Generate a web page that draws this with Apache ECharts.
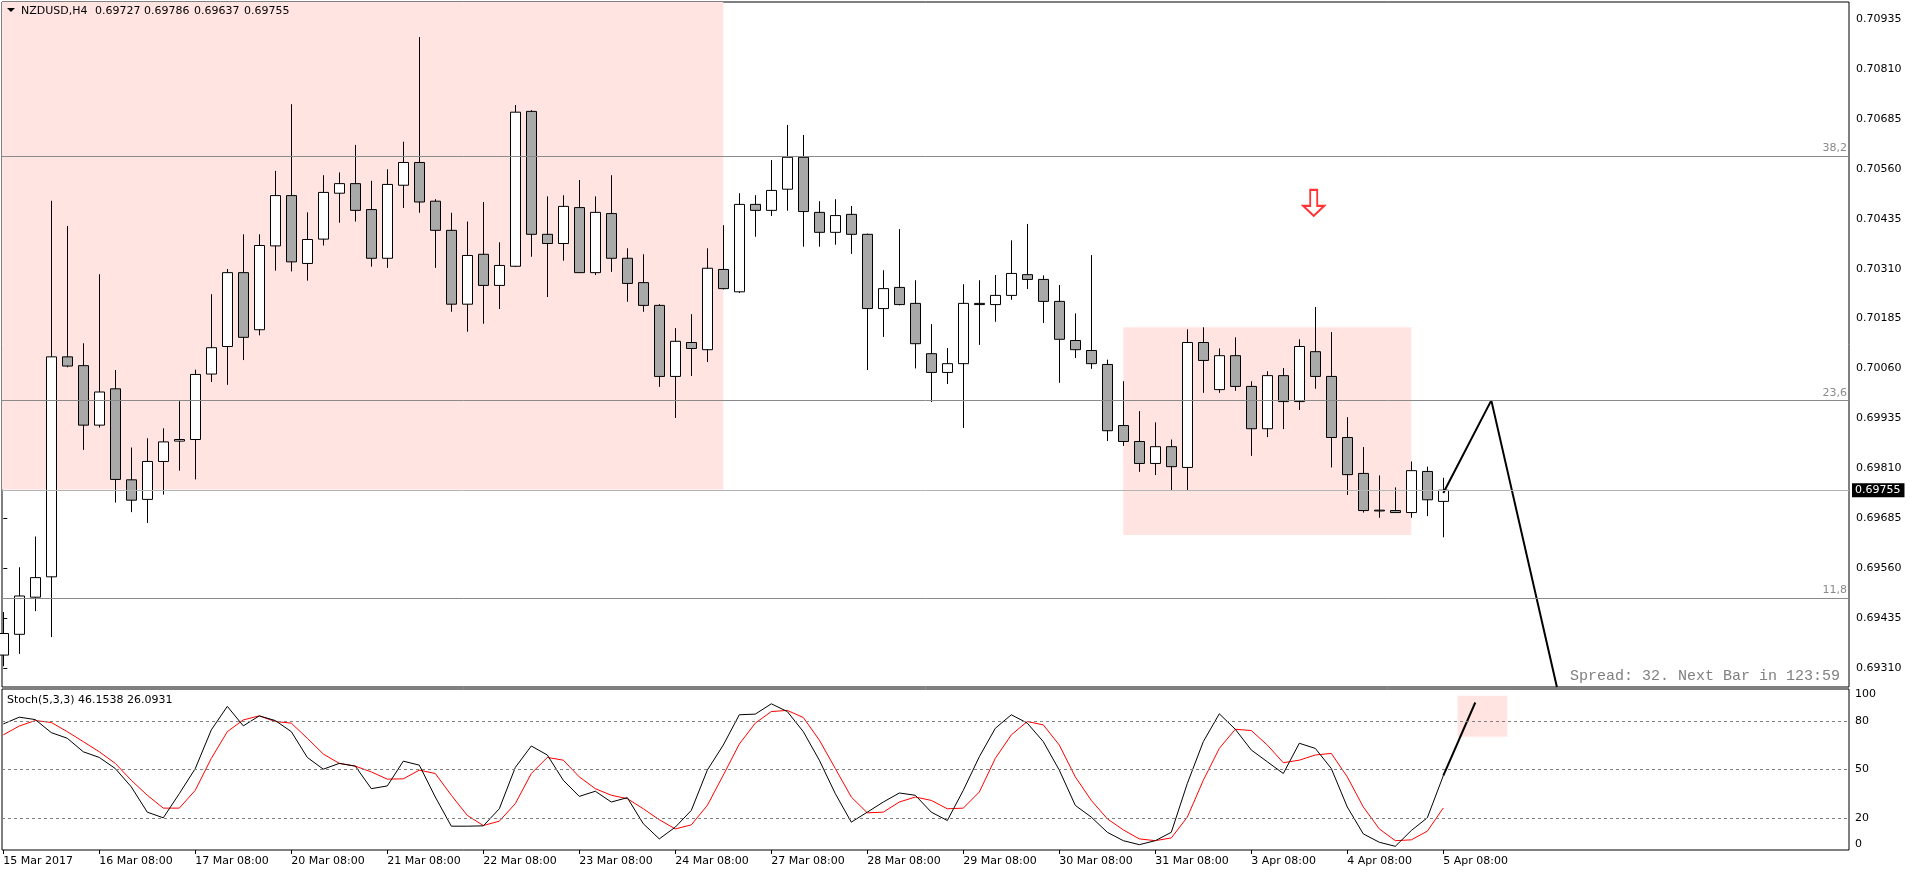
<!DOCTYPE html>
<html>
<head>
<meta charset="utf-8">
<title>NZDUSD,H4</title>
<script src="https://cdn.jsdelivr.net/npm/echarts@6/dist/echarts.min.js"></script>
<style>
  html, body { margin: 0; padding: 0; background: #fff; }
  #chart { width: 1910px; height: 874px; }
</style>
</head>
<body>
<div id="chart"></div>
<script>
// H4 bars, index 0 = 15 Mar 08:00 ... index 90 = 5 Apr 08:00
const opens = [0.69342, 0.69394, 0.69487, 0.69538, 0.70089, 0.70067, 0.69918, 0.70009, 0.69781, 0.69732,
  0.69827, 0.69878, 0.69882, 0.70046, 0.70115, 0.70300, 0.70157, 0.70367, 0.70493, 0.70323,
  0.70384, 0.70499, 0.70523, 0.70458, 0.70336, 0.70519, 0.70576, 0.70479, 0.70406, 0.70221,
  0.70346, 0.70268, 0.70316, 0.70704, 0.70396, 0.70373, 0.70463, 0.70300, 0.70448, 0.70336,
  0.70275, 0.70218, 0.70040, 0.70125, 0.70107, 0.70308, 0.70252, 0.70471, 0.70456, 0.70509,
  0.70589, 0.70451, 0.70401, 0.70446, 0.70396, 0.70210, 0.70263, 0.70223, 0.70097, 0.70050,
  0.70072, 0.70223, 0.70220, 0.70243, 0.70295, 0.70283, 0.70228, 0.70130, 0.70105, 0.70070,
  0.69917, 0.69877, 0.69822, 0.69864, 0.69812, 0.70125, 0.70007, 0.70092, 0.70015, 0.69909,
  0.70042, 0.69977, 0.70102, 0.70040, 0.69887, 0.69797, 0.69705, 0.69704, 0.69699, 0.69802,
  0.69727];
const highs = [0.69450, 0.69562, 0.69639, 0.70480, 0.70417, 0.70123, 0.70296, 0.70056, 0.69862, 0.69885,
  0.69910, 0.69978, 0.70057, 0.70246, 0.70309, 0.70396, 0.70396, 0.70555, 0.70722, 0.70451,
  0.70544, 0.70551, 0.70620, 0.70530, 0.70559, 0.70628, 0.70890, 0.70484, 0.70450, 0.70428,
  0.70477, 0.70376, 0.70720, 0.70707, 0.70491, 0.70494, 0.70532, 0.70491, 0.70544, 0.70361,
  0.70346, 0.70221, 0.70161, 0.70196, 0.70361, 0.70419, 0.70499, 0.70494, 0.70582, 0.70670,
  0.70645, 0.70479, 0.70484, 0.70467, 0.70398, 0.70306, 0.70409, 0.70281, 0.70171, 0.70111,
  0.70271, 0.70281, 0.70294, 0.70381, 0.70422, 0.70293, 0.70269, 0.70198, 0.70344, 0.70082,
  0.70028, 0.69953, 0.69925, 0.69882, 0.70158, 0.70163, 0.70110, 0.70138, 0.70028, 0.70053,
  0.70061, 0.70133, 0.70214, 0.70151, 0.69938, 0.69863, 0.69792, 0.69762, 0.69827, 0.69814,
  0.69786];
const lows = [0.69314, 0.69345, 0.69452, 0.69387, 0.70063, 0.69856, 0.69912, 0.69724, 0.69700, 0.69673,
  0.69744, 0.69804, 0.69782, 0.70026, 0.70019, 0.70081, 0.70143, 0.70305, 0.70303, 0.70280,
  0.70368, 0.70425, 0.70428, 0.70315, 0.70312, 0.70462, 0.70450, 0.70312, 0.70202, 0.70152,
  0.70172, 0.70209, 0.70314, 0.70340, 0.70239, 0.70330, 0.70299, 0.70294, 0.70302, 0.70227,
  0.70202, 0.70014, 0.69936, 0.70041, 0.70076, 0.70258, 0.70249, 0.70390, 0.70442, 0.70455,
  0.70365, 0.70365, 0.70370, 0.70347, 0.70056, 0.70139, 0.70218, 0.70060, 0.69976, 0.70021,
  0.69911, 0.70119, 0.70177, 0.70232, 0.70259, 0.70174, 0.70024, 0.70086, 0.70059, 0.69878,
  0.69866, 0.69801, 0.69793, 0.69753, 0.69753, 0.69999, 0.69999, 0.70004, 0.69841, 0.69888,
  0.69908, 0.69956, 0.70009, 0.69812, 0.69743, 0.69699, 0.69686, 0.69698, 0.69686, 0.69690,
  0.69637];
const closes = [0.69396, 0.69490, 0.69536, 0.70089, 0.70066, 0.69918, 0.70001, 0.69782, 0.69730, 0.69827,
  0.69876, 0.69882, 0.70045, 0.70112, 0.70300, 0.70138, 0.70368, 0.70493, 0.70327, 0.70383,
  0.70501, 0.70523, 0.70456, 0.70336, 0.70521, 0.70576, 0.70477, 0.70406, 0.70221, 0.70343,
  0.70268, 0.70318, 0.70702, 0.70396, 0.70373, 0.70466, 0.70300, 0.70451, 0.70336, 0.70273,
  0.70218, 0.70040, 0.70128, 0.70110, 0.70311, 0.70260, 0.70471, 0.70456, 0.70506, 0.70589,
  0.70453, 0.70401, 0.70443, 0.70396, 0.70210, 0.70260, 0.70220, 0.70122, 0.70050, 0.70072,
  0.70223, 0.70220, 0.70243, 0.70298, 0.70283, 0.70228, 0.70133, 0.70107, 0.70072, 0.69904,
  0.69877, 0.69822, 0.69864, 0.69814, 0.70125, 0.70080, 0.70092, 0.70015, 0.69909, 0.70042,
  0.69977, 0.70115, 0.70040, 0.69887, 0.69794, 0.69704, 0.69703, 0.69699, 0.69804, 0.69731,
  0.69755];

// Stoch(5,3,3): main (black) and signal (red)
const stochMain = [78.3, 82.5, 81, 72.9, 69.4, 61, 57.5, 50.6, 39.2, 23.5,
  20, 35, 50.6, 74.6, 89.2, 77.1, 83.3, 80.4, 73.5, 57.5,
  50.2, 53.8, 52.1, 38.1, 39.8, 55.2, 52.7, 32.9, 14.8, 14.8,
  15, 25.6, 51.3, 64.6, 59, 43.3, 33.3, 36.5, 29.8, 32.5,
  16.3, 6.9, 14.2, 24.6, 49.6, 65.2, 84, 84.4, 90.8, 86,
  73.5, 55.8, 35, 17.3, 23.5, 29.8, 35.4, 34, 23.5, 18.3,
  37.1, 57.9, 75.6, 84, 78.8, 67.3, 49.6, 27.7, 20.4, 11,
  5.8, 3.3, 5.8, 11, 41.3, 67.3, 84.6, 75, 62.1, 54.8,
  47.5, 66.3, 63.1, 50.6, 26.7, 10, 4.8, 2.3, 12.1, 20,
  46.1538];
const stochSignal = [71.5, 77, 80.4, 79.2, 73.5, 67.3, 61, 53.8, 43.3, 34,
  26, 26, 37.1, 56.9, 73.5, 80.8, 83.3, 79.8, 78.8, 69.4,
  59.6, 53.8, 52.1, 48.5, 44, 44.2, 49.6, 47.5, 34, 21.5,
  15.2, 17.9, 28.8, 47.5, 57.5, 55.8, 45.4, 38.1, 34, 31.9,
  25.6, 18.8, 13.1, 15.6, 27.7, 46.5, 65.8, 78.8, 86, 86.7,
  82.3, 68.3, 50.6, 32.9, 23.1, 23.5, 29.8, 32.9, 30.8, 25.6,
  26, 36, 56.9, 71.5, 79.8, 77.7, 65.2, 45.4, 30.8, 19.4,
  12.5, 6.9, 5.8, 7.5, 20.4, 43.3, 63.1, 75, 74.2, 65.2,
  54.2, 55.8, 59, 60, 45.4, 26.7, 13.1, 5.8, 6.3, 11.7,
  26.0931];

const priceTicks = [0.69310, 0.69435, 0.69560, 0.69685, 0.69810, 0.69935, 0.70060,
  0.70185, 0.70310, 0.70435, 0.70560, 0.70685, 0.70810, 0.70935];
const stochTicks = [0, 20, 50, 80, 100];
const stochLevels = [20, 50, 80];
const timeTickBars = [0, 6, 12, 18, 24, 30, 36, 42, 48, 54, 60, 66, 72, 78, 84, 90];
const timeTickLabels = ['15 Mar 2017', '16 Mar 08:00', '17 Mar 08:00', '20 Mar 08:00', '21 Mar 08:00',
  '22 Mar 08:00', '23 Mar 08:00', '24 Mar 08:00', '27 Mar 08:00', '28 Mar 08:00', '29 Mar 08:00',
  '30 Mar 08:00', '31 Mar 08:00', '3 Apr 08:00', '4 Apr 08:00', '5 Apr 08:00'];

const fibLevels = [0.70592, 0.69980, 0.69485];
const fibLabels = ['38,2', '23,6', '11,8'];
const bidPrice = 0.69755;
const zigzag = [[90, 0.69748], [93, 0.69980], [97.1, 0.69262]];
const stochProjection = [[90, 46.1538], [92, 91.6]];
// [x0, y0, x1, y1] in bar index / price
const pinkZones = [[-0.081, 0.70978, 45.0, 0.69757], [70.0, 0.70163, 88.0, 0.69643]];
const stochZone = [90.9, 95.8, 94.0, 70.4];
const arrowPoint = [81.9, 0.70475];

// header: symbol + last bar OHLC
const headerParts = ['NZDUSD,H4', '0.69727', '0.69786', '0.69637', '0.69755'];
const headerX = [21, 95, 144, 194, 244];

const FONT = 'DejaVu Sans';
const X_MIN = -0.081, X_MAX = 115.356;
const P_MIN = 0.69262, P_MAX = 0.70978;

const candles = opens.map((o, i) => [i, o, closes[i], lows[i], highs[i]]);
const mainLine = stochMain.map((v, i) => [i, v]);
const signalLine = stochSignal.map((v, i) => [i, v]);

const chart = echarts.init(document.getElementById('chart'), null, { renderer: 'canvas' });

// horizontal price lines: fibo levels + bid line
const levelLines = fibLevels.map((p, i) => ({
  yAxis: p,
  lineStyle: { color: '#8a8a8a', width: 1, type: 'solid' },
  label: { show: true, position: 'insideEndTop', formatter: fibLabels[i], color: '#8a8a8a', fontFamily: FONT, fontSize: 11, distance: 2 }
}));
levelLines.push({
  yAxis: bidPrice,
  lineStyle: { color: '#b4b4b4', width: 1, type: 'solid' },
  label: {
    show: true, position: 'end', formatter: bidPrice.toFixed(5), color: '#fff',
    backgroundColor: '#000', padding: [2, 4, 1, 3], distance: 3, fontFamily: FONT, fontSize: 11
  }
});

const headerText = headerParts.map((t, i) => ({
  type: 'text', x: headerX[i], y: 11, z: 100,
  style: { text: t, fill: '#000', fontSize: 11, fontFamily: FONT, verticalAlign: 'middle' }
}));

chart.setOption({
  animation: false,
  backgroundColor: '#fff',
  grid: [
    { left: 2, right: 61, top: 2, bottom: 187, show: true, borderColor: '#000', borderWidth: 1, backgroundColor: '#fff' },
    { left: 2, right: 61, top: 689, bottom: 24, show: true, borderColor: '#000', borderWidth: 1, backgroundColor: '#fff' }
  ],
  xAxis: [
    { type: 'value', gridIndex: 0, min: X_MIN, max: X_MAX, show: false },
    {
      type: 'value', gridIndex: 1, min: X_MIN, max: X_MAX, position: 'bottom',
      axisLine: { show: false },
      splitLine: { show: false },
      axisTick: { show: true, customValues: timeTickBars, length: 4, lineStyle: { color: '#000' } },
      axisLabel: {
        customValues: timeTickBars,
        formatter: v => timeTickLabels[timeTickBars.indexOf(Math.round(v))] || '',
        align: 'left', margin: 6, color: '#000', fontFamily: FONT, fontSize: 11
      }
    }
  ],
  yAxis: [
    {
      type: 'value', gridIndex: 0, position: 'right', min: P_MIN, max: P_MAX, scale: true,
      axisLine: { show: false },
      splitLine: { show: false },
      axisTick: { show: true, customValues: priceTicks, length: 4, lineStyle: { color: '#000' } },
      axisLabel: {
        customValues: priceTicks, formatter: v => v.toFixed(5),
        margin: 7, color: '#000', fontFamily: FONT, fontSize: 11
      }
    },
    {
      type: 'value', gridIndex: 1, position: 'right', min: 0, max: 100,
      axisLine: { show: false },
      splitLine: { show: false },
      axisTick: { show: false },
      axisLabel: {
        customValues: stochTicks, margin: 6, color: '#000', fontFamily: FONT, fontSize: 11,
        verticalAlignMinLabel: 'bottom', verticalAlignMaxLabel: 'top'
      }
    }
  ],
  series: [
    {
      type: 'candlestick', xAxisIndex: 0, yAxisIndex: 0, z: 2,
      barWidth: 11,
      encode: { x: 0, y: [1, 2, 3, 4] },
      data: candles,
      itemStyle: { color: '#ffffff', color0: '#a9a9a9', borderColor: '#000', borderColor0: '#000', borderWidth: 1 },
      markArea: {
        silent: true,
        itemStyle: { color: '#ffe4e1' },
        data: pinkZones.map(z => [{ xAxis: z[0], yAxis: z[1] }, { xAxis: z[2], yAxis: z[3] }])
      }
    },
    {
      type: 'line', xAxisIndex: 0, yAxisIndex: 0, z: 4,
      data: zigzag, symbol: 'none',
      lineStyle: { color: '#000', width: 2 },
      markLine: {
        silent: true, symbol: ['none', 'none'], precision: 5,
        data: levelLines
      }
    },
    {
      type: 'scatter', xAxisIndex: 0, yAxisIndex: 0, z: 5,
      data: [arrowPoint],
      symbol: 'path://M7,0L14,0L14,16L21,16L10.5,26L0,16L7,16Z',
      symbolSize: [21, 26],
      itemStyle: { color: 'rgba(255,255,255,0)', borderColor: '#ff0000', borderWidth: 2 }
    },
    {
      type: 'line', xAxisIndex: 1, yAxisIndex: 1, z: 2,
      data: signalLine, symbol: 'none',
      lineStyle: { color: '#ff0000', width: 1 }
    },
    {
      type: 'line', xAxisIndex: 1, yAxisIndex: 1, z: 3,
      data: mainLine, symbol: 'none',
      lineStyle: { color: '#000', width: 1 },
      markArea: {
        silent: true,
        itemStyle: { color: '#ffe4e1' },
        data: [[{ xAxis: stochZone[0], yAxis: stochZone[1] }, { xAxis: stochZone[2], yAxis: stochZone[3] }]]
      },
      markLine: {
        silent: true, symbol: ['none', 'none'],
        label: { show: false },
        lineStyle: { color: '#808080', width: 1, type: [3, 3] },
        data: stochLevels.map(v => ({ yAxis: v }))
      }
    },
    {
      type: 'line', xAxisIndex: 1, yAxisIndex: 1, z: 4,
      data: stochProjection, symbol: 'none',
      lineStyle: { color: '#000', width: 2 }
    }
  ],
  graphic: [
    { type: 'polygon', shape: { points: [[7, 8], [15, 8], [11, 12]] }, style: { fill: '#000' }, z: 100 },
    { type: 'text', x: 7, y: 700, z: 100, style: { text: 'Stoch(5,3,3) 46.1538 26.0931', fill: '#000', fontSize: 11, fontFamily: FONT, verticalAlign: 'middle' } },
    { type: 'text', x: 1840, y: 676, z: 100, style: { text: 'Spread: 32. Next Bar in 123:59', fill: '#808080', fontSize: 15, fontFamily: 'Liberation Mono', align: 'right', verticalAlign: 'middle' } }
  ].concat(headerText)
});
</script>
</body>
</html>
